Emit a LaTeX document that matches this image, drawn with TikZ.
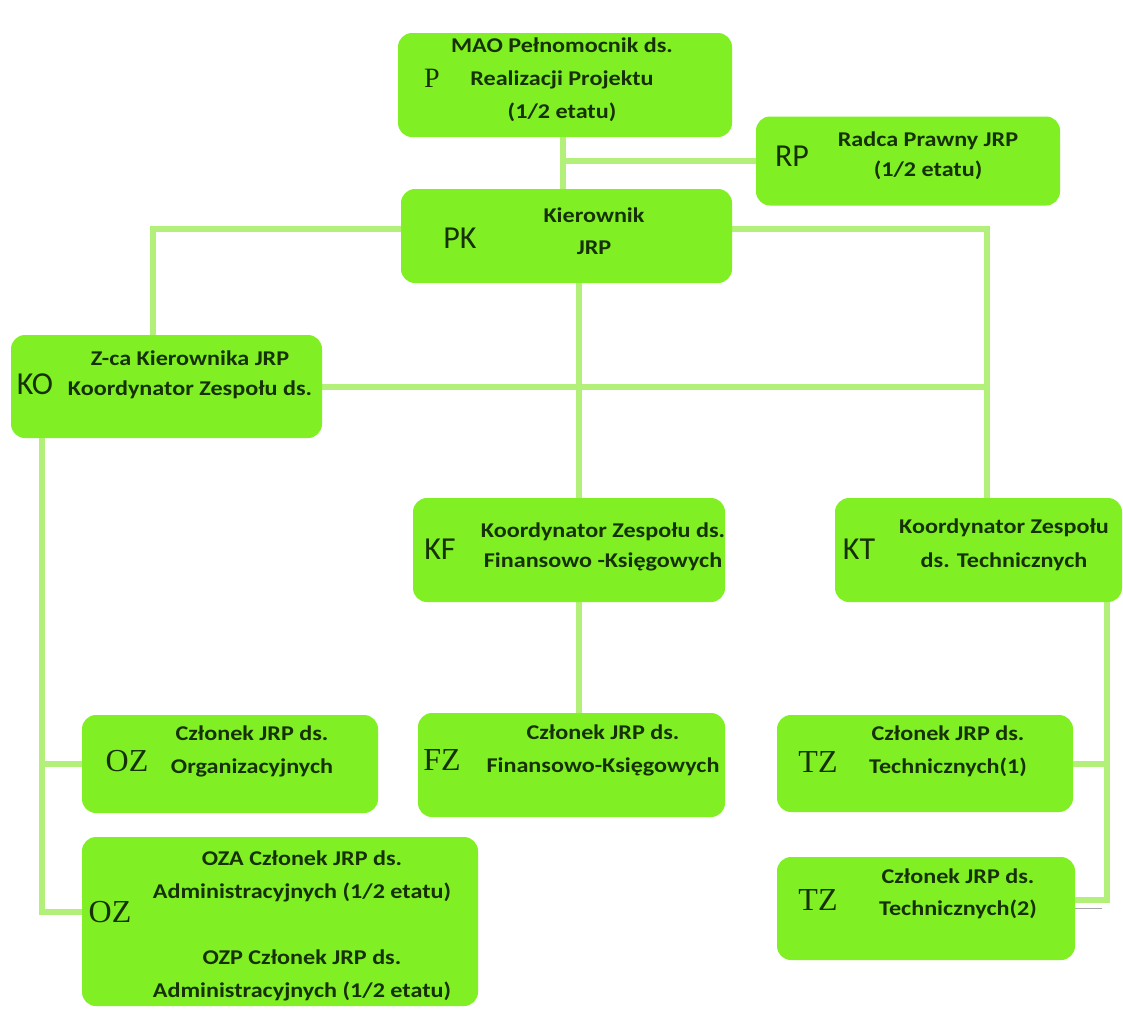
\documentclass[tikz,border=0pt]{standalone}
\usepackage{fontspec}
\setmainfont{Carlito}
\newfontfamily\txtfont[FakeStretch=1.15]{Carlito}
\newfontfamily\lblsans{Carlito}
\newfontfamily\lblserif{Liberation Serif}
\usetikzlibrary{backgrounds}
\definecolor{boxgreen}{RGB}{128,240,36}
\definecolor{linecol}{RGB}{178,240,122}
\definecolor{txtcol}{RGB}{22,50,4}
\tikzset{
  box/.style={fill=boxgreen, rounded corners=14pt, inner sep=0pt, outer sep=0pt},
  txt/.style={text=txtcol, align=center, inner sep=0pt, font=\txtfont\bfseries\fontsize{21}{31}\selectfont},
  lbl/.style={text=txtcol, inner sep=0pt, font=\lblsans\fontsize{32}{32}\selectfont},
  lbls/.style={text=txtcol, inner sep=0pt, font=\lblserif\fontsize{32}{32}\selectfont},
  conn/.style={draw=linecol, line width=6pt},
  thinline/.style={draw=gray!70, line width=1pt}
}
\begin{document}
\begin{tikzpicture}[x=1pt,y=-1pt]
\useasboundingbox (0,0) rectangle (1123,1010);
% boxes
\node[box, minimum width=334pt, minimum height=104pt] (P) at (565,85) {};
\node[box, minimum width=304pt, minimum height=89pt] (RP) at (908,161) {};
\node[box, minimum width=331pt, minimum height=94pt] (PK) at (566.5,236) {};
\node[box, minimum width=311pt, minimum height=103pt] (KO) at (166.5,386.5) {};
\node[box, minimum width=312pt, minimum height=104pt] (KF) at (569,550) {};
\node[box, minimum width=287pt, minimum height=104pt] (KT) at (978.5,550) {};
\node[box, minimum width=296pt, minimum height=98pt] (OZ1) at (230,764) {};
\node[box, minimum width=307pt, minimum height=104pt] (FZ) at (571.5,765) {};
\node[box, minimum width=296pt, minimum height=97pt] (TZ1) at (925,763.5) {};
\node[box, minimum width=298pt, minimum height=103pt] (TZ2) at (926,908.5) {};
\node[box, minimum width=396pt, minimum height=169pt] (OZ2) at (280,921.5) {};
% labels
\node[lbls, font=\lblserif\fontsize{28}{28}\selectfont] (Pl) at (432,78) {P};
\node[lbl] (RPl) at (792,156) {RP};
\node[lbl] (PKl) at (460,238) {PK};
\node[lbl] (KOl) at (35,384) {KO};
\node[lbl] (KFl) at (440,549) {KF};
\node[lbl] (KTl) at (859,549) {KT};
\node[lbls] (OZ1l) at (127,761) {OZ};
\node[lbls] (FZl) at (442,760) {FZ};
\node[lbls] (TZ1l) at (818,762) {TZ};
\node[lbls] (TZ2l) at (818,900) {TZ};
\node[lbls] (OZ2l) at (110,912) {OZ};
% texts
\node[txt, font=\txtfont\bfseries\fontsize{21}{33}\selectfont] (Pt) at (562,80) {MAO Pełnomocnik ds.\\Realizacji Projektu\\(1/2 etatu)};
\node[txt, font=\txtfont\bfseries\fontsize{21}{30}\selectfont] (RPt) at (928,156) {Radca Prawny JRP\\(1/2 etatu)};
\node[txt, font=\txtfont\bfseries\fontsize{21}{32}\selectfont] (PKt) at (594,231) {Kierownik\\JRP};
\node[txt, font=\txtfont\bfseries\fontsize{21}{30}\selectfont] (KOt) at (190,375) {Z-ca Kierownika JRP\\Koordynator Zespołu ds.};
\node[txt, font=\txtfont\bfseries\fontsize{21}{30}\selectfont] (KFt) at (603,547) {Koordynator Zespołu ds.\\Finansowo -Księgowych};
\node[txt, font=\txtfont\bfseries\fontsize{21}{34}\selectfont] (KTt) at (1004,545) {Koordynator Zespołu\\ds. Technicznych};
\node[txt, font=\txtfont\bfseries\fontsize{21}{33}\selectfont] (OZ1t) at (252,751) {Członek JRP ds.\\Organizacyjnych};
\node[txt, font=\txtfont\bfseries\fontsize{21}{33}\selectfont] (FZt) at (603,750) {Członek JRP ds.\\Finansowo-Księgowych};
\node[txt, font=\txtfont\bfseries\fontsize{21}{33}\selectfont] (TZ1t) at (948,751) {Członek JRP ds.\\Technicznych(1)};
\node[txt, font=\txtfont\bfseries\fontsize{21}{32}\selectfont] (TZ2t) at (958,894) {Członek JRP ds.\\Technicznych(2)};
\node[txt, font=\txtfont\bfseries\fontsize{21}{33}\selectfont] (OZ2t) at (302,926) {OZA Członek JRP ds.\\Administracyjnych (1/2 etatu)\\[33pt]OZP Członek JRP ds.\\Administracyjnych (1/2 etatu)};
% connectors
\begin{scope}[on background layer]
\fill[white] (0,0) rectangle (1123,1010);
\draw[conn] ([xshift=-2pt]P.south) -- ([xshift=-3.5pt]PK.north);
\draw[conn] (RP.west) -- ([xshift=-2pt]RP.west -| P.south);
\coordinate (kon) at ([xshift=-14pt]KO.north);
\coordinate (ktn) at ([xshift=8pt]KT.north);
\draw[conn] ([yshift=7pt]PK.west) -| (kon);
\draw[conn] ([yshift=7pt]PK.east) -| (ktn);
\coordinate (pkb) at ([xshift=12.5pt]PK.south);
\draw[conn] (pkb) -- (pkb |- KF.north);
\draw[conn] (KO.east) -- (KO.east -| ktn);
\coordinate (kob) at ([xshift=31pt]KO.south west);
\draw[conn] (kob) |- (OZ1.west);
\draw[conn] (kob) |- ([yshift=10pt]OZ2.west);
\draw[conn] (pkb |- KF.south) -- (pkb |- FZ.north);
\coordinate (ktb) at ([xshift=-15pt]KT.south east);
\draw[conn] (ktb) |- (TZ1.east);
\draw[conn] (ktb) |- ([yshift=9pt]TZ2.east);
\end{scope}
\draw[thinline] (TZ2.east) -- ++(27pt,0);
\end{tikzpicture}
\end{document}
